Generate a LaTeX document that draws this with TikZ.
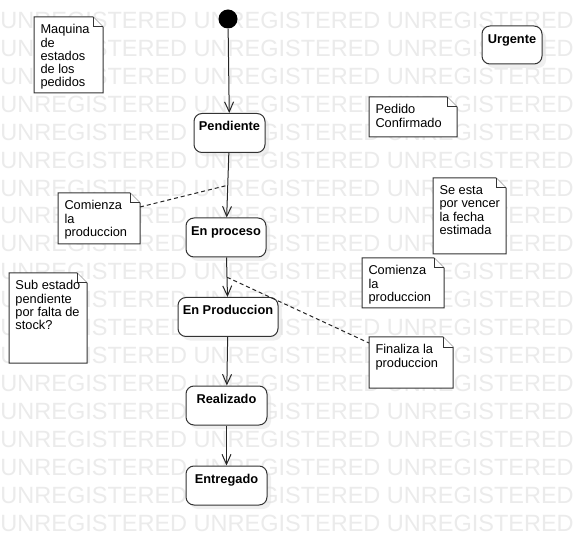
\documentclass[tikz,border=0pt]{standalone}
\usepackage{fontspec}
\setmainfont{Liberation Sans}
\usetikzlibrary{arrows.meta,shadows}

% note with a folded corner: name, x, y, width, height, text
\newcommand{\notebox}[6]{%
  \node[notearea, minimum width=#4, minimum height=#5] (#1) at (#2,#3) {};
  \filldraw[noteline] (#1.north west) -- ([xshift=-10pt]#1.north east) -- ([yshift=-10pt]#1.north east)
      -- (#1.south east) -- (#1.south west) -- cycle;
  \draw[noteline] ([xshift=-10pt]#1.north east) -- ([xshift=-10pt,yshift=-10pt]#1.north east) -- ([yshift=-10pt]#1.north east);
  \node[notetext] (#1-txt) at ([xshift=6pt,yshift=-7pt]#1.north west) {#6};
}

\begin{document}
\begin{tikzpicture}[x=1pt,y=-1pt,line width=1pt,>={Straight Barb[length=10pt,width=9pt]}]
        \tikzstyle{state}=[draw=black!80, fill=white, rounded corners=8pt, font=\fontsize{12.8}{14}\selectfont\bfseries,
                           inner xsep=2pt, inner ysep=0pt, minimum height=39, text height=17.5, text depth=21.5,
                           drop shadow={shadow xshift=4pt, shadow yshift=-4pt, fill=black!12}]
        \tikzstyle{initial}=[circle, fill=black, minimum size=19, inner sep=0pt]
        \tikzstyle{trans}=[->, draw=black!85]
        \tikzstyle{anchorline}=[draw=black!85, dashed, dash pattern=on 4pt off 3pt]
        \tikzstyle{notearea}=[anchor=north west, inner sep=0pt, draw=none]
        \tikzstyle{noteline}=[-, draw=black!80, fill=white]
        \tikzstyle{notetext}=[anchor=north west, inner sep=0pt, align=left, font=\fontsize{12.8}{13.3}\selectfont]
        \tikzstyle{wmark}=[anchor=base west, inner sep=0pt, text=black!8, font=\fontsize{23.5}{28}\selectfont]

        \useasboundingbox[fill=white] (0,0) rectangle (581,545);

        % watermark
        \begin{scope}
          \clip (0,0) rectangle (581,545);
          \foreach \k in {0,...,18}
            \node[wmark] (wm\k) at (0,{28.4+27.94*\k}) {UNREGISTERED UNREGISTERED UNREGISTERED};
        \end{scope}

        % notes
        \notebox{maq}{34}{17}{68}{75}{Maquina\\de\\estados\\de los\\pedidos}
        \notebox{com1}{58}{193}{81}{50}{Comienza\\la\\produccion}
        \notebox{sub}{9}{273}{77}{89}{Sub estado\\pendiente\\por falta de\\stock?}
        \notebox{ped}{369}{97}{87}{39}{Pedido\\Confirmado}
        \notebox{se}{433}{178}{72}{75}{Se esta\\por vencer\\la fecha\\estimada}
        \notebox{com2}{362}{258}{81}{49}{Comienza\\la\\produccion}
        \notebox{fin}{369}{337}{83}{50}{Finaliza la\\produccion}

        % states
        \node[initial]                          (init) at (228,19)    {};
        \node[state, minimum width=71]          (pend) at (229.5,133) {Pendiente};
        \node[state, minimum width=80]          (proc) at (226,237.5) {En proceso};
        \node[state, minimum width=100]         (prod) at (228,317)   {En Produccion};
        \node[state, minimum width=81]          (real) at (226.5,405.5) {Realizado};
        \node[state, minimum width=81]          (entr) at (226.5,485.5) {Entregado};
        \node[state, minimum width=60, minimum height=38, text depth=20.5] (urg) at (512,45) {Urgente};

        % transitions
        \draw[trans] (init) -- (pend);
        \draw[trans] (pend) -- coordinate (m1) (proc);
        \draw[trans] (proc) -- coordinate (m2) (prod);
        \draw[trans] (prod) -- (real);
        \draw[trans] (real) -- (entr);

        \draw[anchorline] ([yshift=-14pt]com1.north east) -- (m1);
        \draw[anchorline] (m2) -- ([yshift=-6pt]fin.north west);
\end{tikzpicture}
\end{document}
